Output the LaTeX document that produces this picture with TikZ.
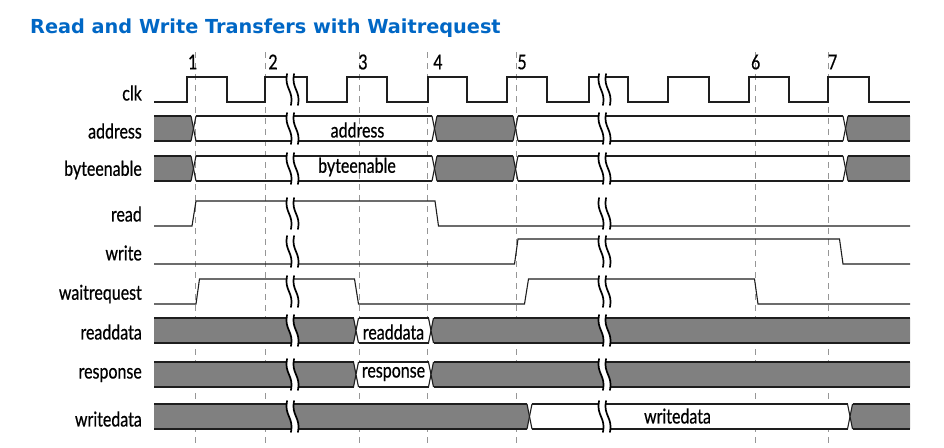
\documentclass[tikz,border=0pt]{standalone}
\usepackage{fontspec}
\newfontfamily\labfont[FakeStretch=0.78,FakeBold=0.6]{Lato}
\newfontfamily\titlefont{DejaVu Sans}
\definecolor{titleblue}{RGB}{0,103,197}
\definecolor{busgray}{RGB}{128,128,128}
\definecolor{wavecol}{RGB}{30,30,30}
\definecolor{dashcol}{RGB}{150,150,150}
\tikzset{
  wave/.style={draw=wavecol,line width=1.1pt,line join=miter},
  clkdash/.style={draw=dashcol,line width=0.9pt,dash pattern=on 6pt off 5pt},
  siglabel/.style={anchor=east,inner sep=0pt,font=\labfont\fontsize{20.5}{21}\selectfont},
  buslabel/.style={inner sep=0pt,font=\labfont\fontsize{20.5}{21}\selectfont},
  numlabel/.style={inner sep=0pt,font=\labfont\fontsize{20.5}{21}\selectfont},
  brkline/.style={draw=black,line width=1.7pt,line cap=round},
}
% bus segment: x1 x2 top bot fill dl dr
\newcommand\busseg[7]{%
  \pgfmathsetmacro\ymid{(#3+#4)/2}%
  \path[fill=#5] (#1,\ymid) -- (#1+#6,#3) -- (#2-#7,#3) -- (#2,\ymid) -- (#2-#7,#4) -- (#1+#6,#4) -- cycle;
  \draw[wave] (#1+#6,#3) -- (#2-#7,#3) (#1+#6,#4) -- (#2-#7,#4);
  \ifdim#6pt>0pt \draw[wave] (#1+#6,#3) -- (#1,\ymid) -- (#1+#6,#4);\fi
  \ifdim#7pt>0pt \draw[wave] (#2-#7,#3) -- (#2,\ymid) -- (#2-#7,#4);\fi
}
% break mark: xb top bot
\newcommand\brkmark[3]{%
  \pgfmathsetmacro\xl{#1-3.5}\pgfmathsetmacro\xr{#1+3.5}%
  \pgfmathsetmacro\ca{#2+0.45*(#3-#2)}\pgfmathsetmacro\cb{#3-0.45*(#3-#2)}%
  \fill[white] (\xl,#2-3) .. controls (\xl-3,\ca) and (\xl+7,\cb) .. (\xl+4,#3+3)
     -- (\xr+4,#3+3) .. controls (\xr+7,\cb) and (\xr-3,\ca) .. (\xr,#2-3) -- cycle;
  \draw[brkline] (\xl,#2-3) .. controls (\xl-3,\ca) and (\xl+7,\cb) .. (\xl+4,#3+3);
  \draw[brkline] (\xr,#2-3) .. controls (\xr-3,\ca) and (\xr+7,\cb) .. (\xr+4,#3+3);
}
\begin{document}
\begin{tikzpicture}[x=1pt,y=-1pt]
\useasboundingbox[fill=white] (0,0) rectangle (944,447);
% title
\node[anchor=base west,inner sep=0pt,text=titleblue,font=\titlefont\bfseries\fontsize{19.3}{20}\selectfont] (title) at (30,33) {Read and Write Transfers with Waitrequest};
% dashed clock reference lines
\foreach \x/\n [count=\i] in {195/1,265/2,359/3,427.7/4,516.7/5,755.7/6,828.3/7}{
  \coordinate (dtop\i) at (\x,52);
  \coordinate (dbot\i) at (\x,446);
  \draw[clkdash] (dtop\i) -- (dbot\i);
}
\node[numlabel] (n1) at (192.7,62) {1};
\node[numlabel] (n2) at (273,62) {2};
\node[numlabel] (n3) at (363,62) {3};
\node[numlabel] (n4) at (438,62) {4};
\node[numlabel] (n5) at (522,62) {5};
\node[numlabel] (n6) at (755.7,62) {6};
\node[numlabel] (n7) at (832.7,62) {7};
% signal labels
\node[siglabel] (lclk) at (142,93) {clk};
\node[siglabel] (laddr) at (142,131) {address};
\node[siglabel] (lbe) at (142,170) {byteenable};
\node[siglabel] (lread) at (142,214) {read};
\node[siglabel] (lwrite) at (142,253) {write};
\node[siglabel] (lwait) at (142,294) {waitrequest};
\node[siglabel] (lrd) at (142,332) {readdata};
\node[siglabel] (lresp) at (142,375) {response};
\node[siglabel] (lwd) at (142,419) {writedata};
% clk
\draw[wave] (154,102) -- (187,102) -- (187,77) -- (227,77) -- (227,102) -- (265,102) -- (265,77) -- (307,77) -- (307,102) -- (347,102) -- (347,77) -- (387,77) -- (387,102) -- (428,102) -- (428,77) -- (467,77) -- (467,102) -- (507,102) -- (507,77) -- (547,77) -- (547,102) -- (589,102) -- (589,77) -- (628,77) -- (628,102) -- (668,102) -- (668,77) -- (709,77) -- (709,102) -- (749,102) -- (749,77) -- (789,77) -- (789,102) -- (828,102) -- (828,77) -- (869,77) -- (869,102) -- (910,102);
% read / write / waitrequest
\draw[wave] (154,226) -- (192,226) -- (196,201) -- (435,201) -- (438.5,226) -- (910,226);
\draw[wave] (154,264) -- (514.5,264) -- (518,239) -- (839.5,239) -- (843,264) -- (910,264);
\draw[wave] (154,304) -- (196,304) -- (199.5,279) -- (354.5,279) -- (358.5,304) -- (524.5,304) -- (528.5,279) -- (754.5,279) -- (758,304) -- (910,304);
% address
\busseg{154}{193.5}{116}{141}{busgray}{0}{2.5}
\busseg{193.5}{434.5}{116}{141}{none}{2.5}{2.5}
\busseg{434.5}{515.5}{116}{141}{busgray}{2.5}{2.5}
\busseg{515.5}{845.5}{116}{141}{none}{2.5}{2.5}
\busseg{845.5}{910}{116}{141}{busgray}{2.5}{0}
% byteenable
\busseg{154}{193.5}{156}{181}{busgray}{0}{2.5}
\busseg{193.5}{434.5}{156}{181}{none}{2.5}{2.5}
\busseg{434.5}{515.5}{156}{181}{busgray}{2.5}{2.5}
\busseg{515.5}{845.5}{156}{181}{none}{2.5}{2.5}
\busseg{845.5}{910}{156}{181}{busgray}{2.5}{0}
% readdata
\busseg{154}{356}{318}{343}{busgray}{0}{2.5}
\busseg{356}{431}{318}{343}{white}{2.5}{2.5}
\busseg{431}{910}{318}{343}{busgray}{2.5}{0}
% response
\busseg{154}{356}{362}{387}{busgray}{0}{2.5}
\busseg{356}{431}{362}{387}{white}{2.5}{2.5}
\busseg{431}{910}{362}{387}{busgray}{2.5}{0}
% writedata
\busseg{154}{529.5}{404}{429}{busgray}{0}{2.5}
\busseg{529.5}{850}{404}{429}{white}{2.5}{2.5}
\busseg{850}{910}{404}{429}{busgray}{2.5}{0}
% break marks
\foreach \t/\b in {77/102,116/141,156/181,201/226,239/264,279/304,318/343,362/387,404/429}{
  \brkmark{290.5}{\t}{\b}
  \brkmark{602.5}{\t}{\b}
}
% bus labels
\node[buslabel] (taddr) at (357.5,130) {address};
\node[buslabel] (tbe) at (357,167) {byteenable};
\node[buslabel] (trd) at (393.5,332) {readdata};
\node[buslabel] (tresp) at (393.5,374) {response};
\node[buslabel] (twd) at (677.5,416) {writedata};
\end{tikzpicture}
\end{document}
